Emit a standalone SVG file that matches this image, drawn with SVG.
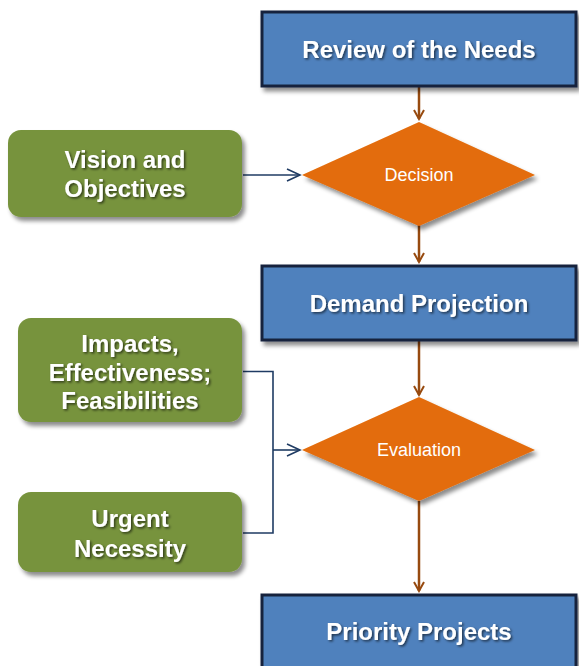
<svg xmlns="http://www.w3.org/2000/svg" width="579" height="666" viewBox="0 0 579 666">
<defs>
<filter id="sh" x="-10%" y="-10%" width="130%" height="140%">
<feDropShadow dx="3" dy="4" stdDeviation="2" flood-color="#000" flood-opacity="0.45"/>
</filter>
<filter id="ts" x="-5%" y="-20%" width="110%" height="150%">
<feDropShadow dx="1.5" dy="1.5" stdDeviation="0.8" flood-color="#000" flood-opacity="0.6"/>
</filter>
<marker id="ab" markerWidth="12" markerHeight="12" refX="10" refY="6" orient="auto" markerUnits="userSpaceOnUse">
<path d="M1,1 L10,6 L1,11" fill="none" stroke="#974A0F" stroke-width="2"/>
</marker>
<marker id="an" markerWidth="16" markerHeight="14" refX="14" refY="7" orient="auto" markerUnits="userSpaceOnUse">
<path d="M1,1 L14,7 L1,13" fill="none" stroke="#1F3B63" stroke-width="1.6"/>
</marker>
</defs>
<style>
.box{fill:#4F81BD;stroke:#15243D;stroke-width:3}
.grn{fill:#77933C}
.dia{fill:#E36C0A}
.bt{font-family:"Liberation Sans",Arial,sans-serif;font-weight:bold;font-size:24px;fill:#fff;text-anchor:middle}
.gt{font-family:"Liberation Sans",Arial,sans-serif;font-weight:bold;font-size:24px;fill:#fff;text-anchor:middle}
.dt{font-family:"Liberation Sans",Arial,sans-serif;font-size:18px;fill:#fff;text-anchor:middle}
.br{stroke:#974A0F;stroke-width:2.5;fill:none}
.nv{stroke:#1F3B63;stroke-width:1.6;fill:none}
</style>
<g id="connectors">
<line class="br" x1="419" y1="87" x2="419" y2="119" marker-end="url(#ab)"/>
<line class="br" x1="419" y1="225" x2="419" y2="262" marker-end="url(#ab)"/>
<line class="br" x1="419" y1="341" x2="419" y2="395" marker-end="url(#ab)"/>
<line class="br" x1="419" y1="501" x2="419" y2="591" marker-end="url(#ab)"/>
<line class="nv" x1="243" y1="175" x2="300" y2="175" marker-end="url(#an)"/>
<path class="nv" d="M243,371.5 H273 V533 H243"/>
<line class="nv" x1="273" y1="450" x2="300" y2="450" marker-end="url(#an)"/>
</g>
<g id="review">
<rect class="box" x="262" y="12" width="314" height="74" filter="url(#sh)"/>
<text class="bt" x="419" y="58" filter="url(#ts)">Review of the Needs</text>
</g>
<g id="decision">
<polygon class="dia" points="419,122 535,175 419,226 302,175" filter="url(#sh)"/>
<text class="dt" x="419" y="181">Decision</text>
</g>
<g id="demand">
<rect class="box" x="262" y="266" width="314" height="74" filter="url(#sh)"/>
<text class="bt" x="419" y="312" filter="url(#ts)">Demand Projection</text>
</g>
<g id="evaluation">
<polygon class="dia" points="419,397 535,450 419,501 302,450" filter="url(#sh)"/>
<text class="dt" x="419" y="456">Evaluation</text>
</g>
<g id="priority">
<rect class="box" x="262" y="595" width="314" height="76" filter="url(#sh)"/>
<text class="bt" x="419" y="640" filter="url(#ts)">Priority Projects</text>
</g>
<g id="vision">
<rect class="grn" x="8" y="130" width="234" height="87" rx="13" filter="url(#sh)"/>
<text class="gt" x="125" y="168" filter="url(#ts)">Vision and</text>
<text class="gt" x="125" y="197" filter="url(#ts)">Objectives</text>
</g>
<g id="impacts">
<rect class="grn" x="18" y="318" width="224" height="104" rx="13" filter="url(#sh)"/>
<text class="gt" x="130" y="352" filter="url(#ts)">Impacts,</text>
<text class="gt" x="130" y="381" filter="url(#ts)">Effectiveness;</text>
<text class="gt" x="130" y="409" filter="url(#ts)">Feasibilities</text>
</g>
<g id="urgent">
<rect class="grn" x="18" y="492" width="224" height="80" rx="13" filter="url(#sh)"/>
<text class="gt" x="130" y="527" filter="url(#ts)">Urgent</text>
<text class="gt" x="130" y="557" filter="url(#ts)">Necessity</text>
</g>
</svg>
